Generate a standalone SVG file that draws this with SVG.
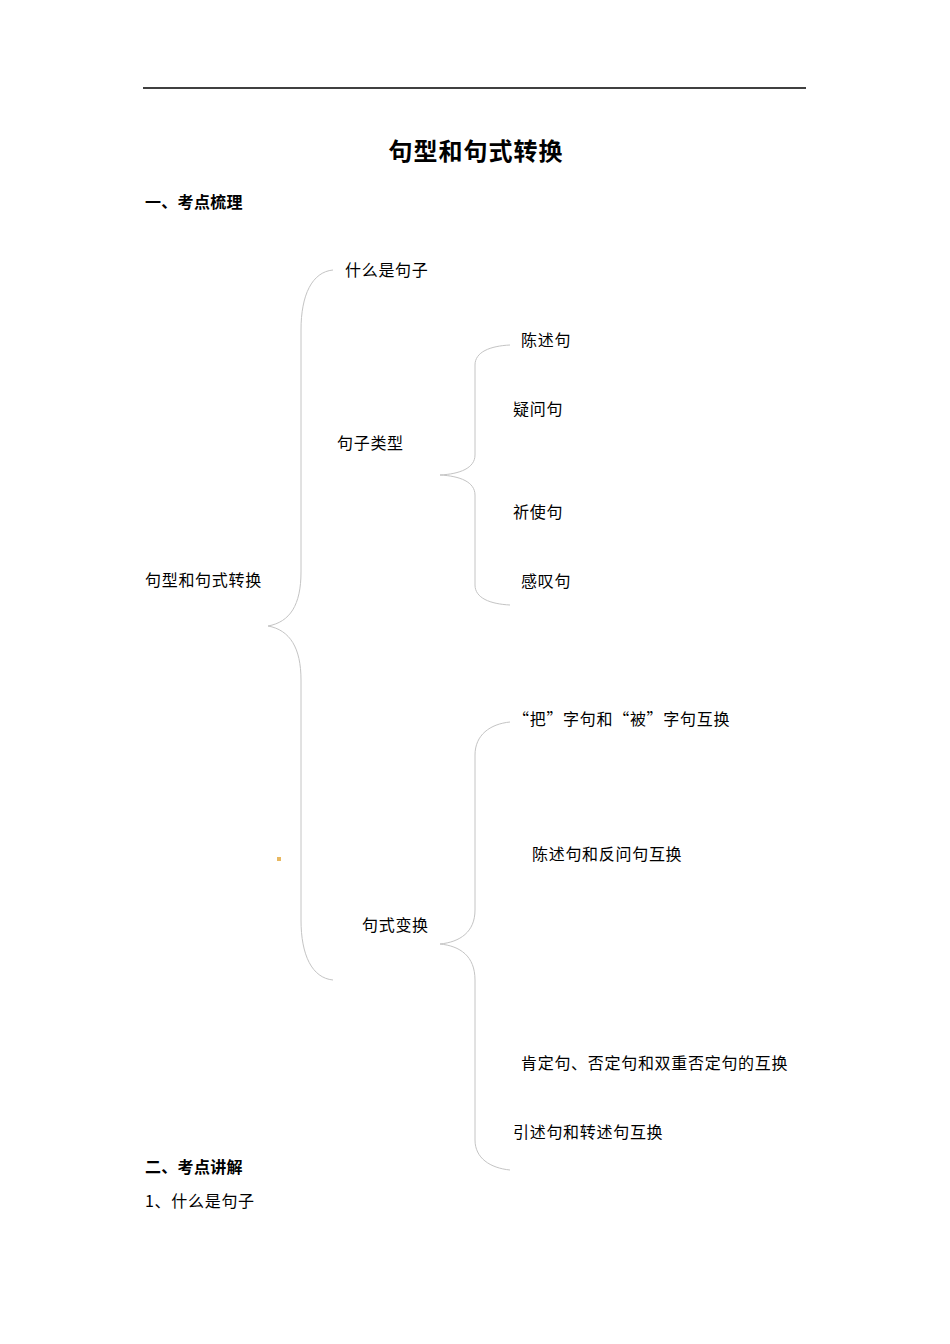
<svg xmlns="http://www.w3.org/2000/svg" width="950" height="1344" viewBox="0 0 950 1344">
<style>
text{font-family:"Noto Sans CJK SC","Liberation Sans",sans-serif;fill:#000;}
.t{font-size:16px;letter-spacing:0.7px;}
.h{font-size:16px;font-weight:bold;letter-spacing:0.3px;}
.title{font-size:24px;font-weight:bold;letter-spacing:1px;}
.brace{fill:none;stroke:#c4c4c4;stroke-width:1;}
</style>
<rect x="0" y="0" width="950" height="1344" fill="#fff"/>
<line x1="143" y1="88" x2="806" y2="88" stroke="#000" stroke-width="1.5"/>
<text class="title" x="476" y="160" text-anchor="middle">句型和句式转换</text>
<text class="h" x="145" y="208">一、考点梳理</text>
<g id="connectors">
<path class="brace" d="M333,270 C312,272 301,295 301,330 L301,572 C301,605 290,622 268,626 C290,630 301,648 301,680 L301,920 C301,955 312,978 333,980"/>
<path class="brace" d="M510,345 C490,346 475,352 475,365 L475,455 C475,468 460,474 440,475 C460,476 475,482 475,495 L475,585 C475,598 490,604 510,605"/>
<path class="brace" d="M510,722 C490,724 475,735 475,755 L475,910 C475,932 460,942 440,944 C460,946 475,956 475,980 L475,1140 C475,1158 490,1168 510,1170"/>
</g>
<g id="root"><text class="t" x="145" y="586">句型和句式转换</text></g>
<g id="n-shenme"><text class="t" x="345" y="276">什么是句子</text></g>
<g id="n-leixing"><text class="t" x="337" y="449">句子类型</text></g>
<g id="n-chenshu"><text class="t" x="521" y="346">陈述句</text></g>
<g id="n-yiwen"><text class="t" x="513" y="415">疑问句</text></g>
<g id="n-qishi"><text class="t" x="513" y="518">祈使句</text></g>
<g id="n-gantan"><text class="t" x="521" y="587">感叹句</text></g>
<g id="n-bianhuan"><text class="t" x="362" y="931">句式变换</text></g>
<g id="n-babei"><text class="t" x="513" y="725">“把”字句和“被”字句互换</text></g>
<g id="n-fanwen"><text class="t" x="532" y="860">陈述句和反问句互换</text></g>
<g id="n-fouding"><text class="t" x="521" y="1069">肯定句、否定句和双重否定句的互换</text></g>
<g id="n-yinshu"><text class="t" x="513" y="1138">引述句和转述句互换</text></g>
<rect x="277" y="857" width="4" height="4" fill="#e8b860"/>
<text class="h" x="145" y="1173">二、考点讲解</text>
<text class="t" x="145" y="1207">1、什么是句子</text>
</svg>
